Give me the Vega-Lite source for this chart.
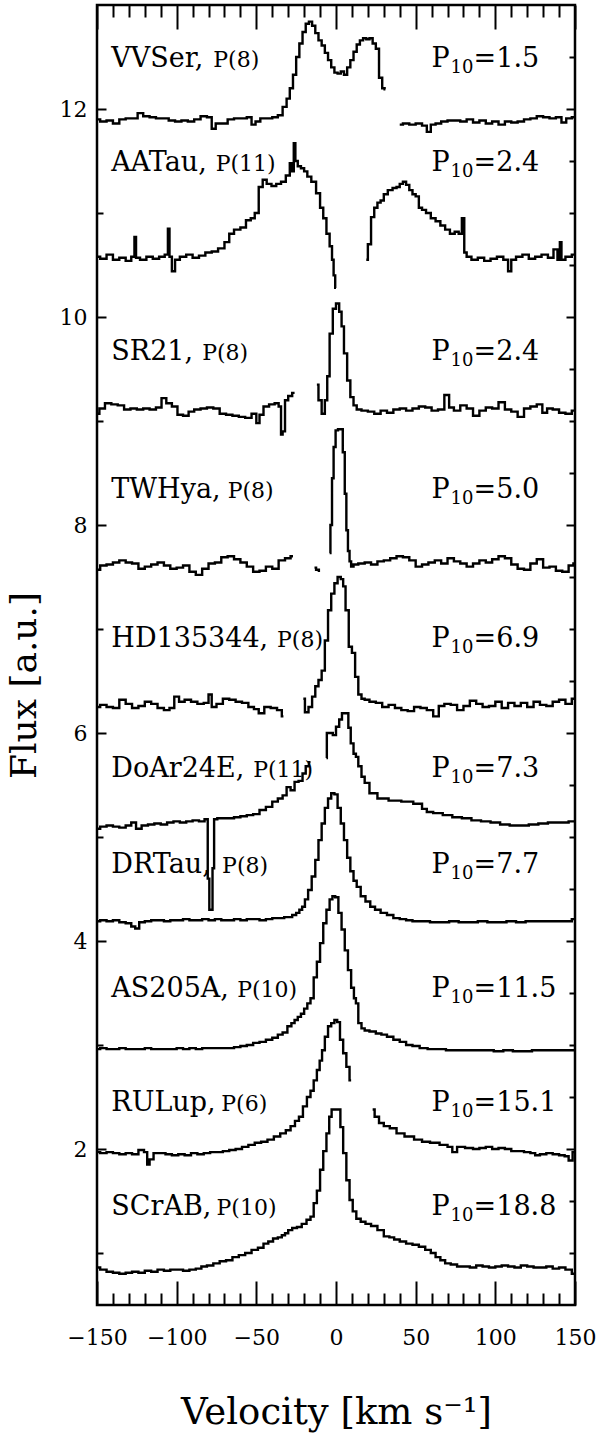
{
"$schema":"https://vega.github.io/schema/vega-lite/v6.json",
"width":478,"height":1300,
"autosize":{"type":"none"},
"padding":{"left":97,"top":5,"right":25,"bottom":128},
"background":"white",
"config":{"view":{"stroke":"black","strokeWidth":2.5},
 "axis":{"grid":false,"domain":false,"tickColor":"black","tickWidth":2,"labelColor":"black","titleColor":"black","labelFont":"DejaVu Serif","titleFont":"DejaVu Serif","titleFontWeight":"normal","labelOverlap":false,"labelFlush":false,"labelBound":false}},
"datasets":{
"spec":[
{"seg":"VVSer-a","v":-150,"f":11.90},{"seg":"VVSer-a","v":-146,"f":11.88},{"seg":"VVSer-a","v":-142,"f":11.89},{"seg":"VVSer-a","v":-138,"f":11.86},{"seg":"VVSer-a","v":-134,"f":11.90},{"seg":"VVSer-a","v":-130,"f":11.91},{"seg":"VVSer-a","v":-126,"f":11.91},{"seg":"VVSer-a","v":-123,"f":11.96},{"seg":"VVSer-a","v":-119,"f":11.93},{"seg":"VVSer-a","v":-115,"f":11.92},{"seg":"VVSer-a","v":-111,"f":11.91},{"seg":"VVSer-a","v":-107,"f":11.91},{"seg":"VVSer-a","v":-103,"f":11.89},{"seg":"VVSer-a","v":-99,"f":11.88},{"seg":"VVSer-a","v":-95,"f":11.89},{"seg":"VVSer-a","v":-91,"f":11.88},{"seg":"VVSer-a","v":-87,"f":11.90},{"seg":"VVSer-a","v":-83,"f":11.93},{"seg":"VVSer-a","v":-79,"f":11.92},{"seg":"VVSer-a","v":-77,"f":11.81},{"seg":"VVSer-a","v":-74,"f":11.86},{"seg":"VVSer-a","v":-70,"f":11.86},{"seg":"VVSer-a","v":-66,"f":11.90},{"seg":"VVSer-a","v":-62,"f":11.91},{"seg":"VVSer-a","v":-58,"f":11.91},{"seg":"VVSer-a","v":-54,"f":11.92},{"seg":"VVSer-a","v":-52,"f":11.85},{"seg":"VVSer-a","v":-49,"f":11.88},{"seg":"VVSer-a","v":-46,"f":11.91},{"seg":"VVSer-a","v":-42,"f":11.91},{"seg":"VVSer-a","v":-38,"f":11.92},{"seg":"VVSer-a","v":-35,"f":11.94},{"seg":"VVSer-a","v":-32,"f":12.02},{"seg":"VVSer-a","v":-30,"f":12.10},{"seg":"VVSer-a","v":-28,"f":12.20},{"seg":"VVSer-a","v":-26,"f":12.33},{"seg":"VVSer-a","v":-24,"f":12.50},{"seg":"VVSer-a","v":-22,"f":12.63},{"seg":"VVSer-a","v":-20,"f":12.74},{"seg":"VVSer-a","v":-18,"f":12.82},{"seg":"VVSer-a","v":-16,"f":12.84},{"seg":"VVSer-a","v":-14,"f":12.80},{"seg":"VVSer-a","v":-12,"f":12.73},{"seg":"VVSer-a","v":-10,"f":12.66},{"seg":"VVSer-a","v":-8,"f":12.61},{"seg":"VVSer-a","v":-6,"f":12.54},{"seg":"VVSer-a","v":-4,"f":12.47},{"seg":"VVSer-a","v":-2,"f":12.40},{"seg":"VVSer-a","v":0,"f":12.35},{"seg":"VVSer-a","v":2,"f":12.34},{"seg":"VVSer-a","v":4,"f":12.36},{"seg":"VVSer-a","v":6,"f":12.33},{"seg":"VVSer-a","v":8,"f":12.40},{"seg":"VVSer-a","v":10,"f":12.47},{"seg":"VVSer-a","v":12,"f":12.55},{"seg":"VVSer-a","v":14,"f":12.62},{"seg":"VVSer-a","v":16,"f":12.66},{"seg":"VVSer-a","v":18,"f":12.68},{"seg":"VVSer-a","v":20,"f":12.67},{"seg":"VVSer-a","v":22,"f":12.68},{"seg":"VVSer-a","v":24,"f":12.63},{"seg":"VVSer-a","v":26,"f":12.58},{"seg":"VVSer-a","v":28,"f":12.30},{"seg":"VVSer-a","v":30,"f":12.20},{"seg":"VVSer-a","v":31,"f":12.19},
{"seg":"VVSer-b","v":40,"f":11.85},{"seg":"VVSer-b","v":44,"f":11.86},{"seg":"VVSer-b","v":48,"f":11.85},{"seg":"VVSer-b","v":52,"f":11.86},{"seg":"VVSer-b","v":56,"f":11.84},{"seg":"VVSer-b","v":58,"f":11.78},{"seg":"VVSer-b","v":61,"f":11.85},{"seg":"VVSer-b","v":64,"f":11.86},{"seg":"VVSer-b","v":68,"f":11.88},{"seg":"VVSer-b","v":72,"f":11.89},{"seg":"VVSer-b","v":76,"f":11.89},{"seg":"VVSer-b","v":80,"f":11.88},{"seg":"VVSer-b","v":84,"f":11.90},{"seg":"VVSer-b","v":88,"f":11.87},{"seg":"VVSer-b","v":92,"f":11.89},{"seg":"VVSer-b","v":96,"f":11.86},{"seg":"VVSer-b","v":100,"f":11.88},{"seg":"VVSer-b","v":104,"f":11.85},{"seg":"VVSer-b","v":108,"f":11.88},{"seg":"VVSer-b","v":112,"f":11.87},{"seg":"VVSer-b","v":116,"f":11.88},{"seg":"VVSer-b","v":120,"f":11.90},{"seg":"VVSer-b","v":124,"f":11.91},{"seg":"VVSer-b","v":128,"f":11.93},{"seg":"VVSer-b","v":132,"f":11.92},{"seg":"VVSer-b","v":136,"f":11.91},{"seg":"VVSer-b","v":140,"f":11.92},{"seg":"VVSer-b","v":143,"f":11.87},{"seg":"VVSer-b","v":146,"f":11.91},{"seg":"VVSer-b","v":150,"f":11.92},
{"seg":"AATau-a","v":-150,"f":10.58},{"seg":"AATau-a","v":-146,"f":10.56},{"seg":"AATau-a","v":-142,"f":10.60},{"seg":"AATau-a","v":-138,"f":10.55},{"seg":"AATau-a","v":-134,"f":10.57},{"seg":"AATau-a","v":-130,"f":10.54},{"seg":"AATau-a","v":-127,"f":10.58},{"seg":"AATau-a","v":-126,"f":10.77},{"seg":"AATau-a","v":-125,"f":10.57},{"seg":"AATau-a","v":-121,"f":10.55},{"seg":"AATau-a","v":-117,"f":10.58},{"seg":"AATau-a","v":-113,"f":10.56},{"seg":"AATau-a","v":-109,"f":10.58},{"seg":"AATau-a","v":-106,"f":10.60},{"seg":"AATau-a","v":-105,"f":10.85},{"seg":"AATau-a","v":-104,"f":10.58},{"seg":"AATau-a","v":-102,"f":10.44},{"seg":"AATau-a","v":-100,"f":10.55},{"seg":"AATau-a","v":-96,"f":10.58},{"seg":"AATau-a","v":-92,"f":10.60},{"seg":"AATau-a","v":-88,"f":10.57},{"seg":"AATau-a","v":-84,"f":10.59},{"seg":"AATau-a","v":-80,"f":10.62},{"seg":"AATau-a","v":-76,"f":10.63},{"seg":"AATau-a","v":-72,"f":10.66},{"seg":"AATau-a","v":-68,"f":10.72},{"seg":"AATau-a","v":-66,"f":10.80},{"seg":"AATau-a","v":-62,"f":10.84},{"seg":"AATau-a","v":-58,"f":10.86},{"seg":"AATau-a","v":-55,"f":10.93},{"seg":"AATau-a","v":-52,"f":10.95},{"seg":"AATau-a","v":-50,"f":11.00},{"seg":"AATau-a","v":-47,"f":11.25},{"seg":"AATau-a","v":-45,"f":11.32},{"seg":"AATau-a","v":-42,"f":11.28},{"seg":"AATau-a","v":-39,"f":11.26},{"seg":"AATau-a","v":-36,"f":11.28},{"seg":"AATau-a","v":-33,"f":11.30},{"seg":"AATau-a","v":-30,"f":11.36},{"seg":"AATau-a","v":-28,"f":11.48},{"seg":"AATau-a","v":-27,"f":11.40},{"seg":"AATau-a","v":-26,"f":11.67},{"seg":"AATau-a","v":-25,"f":11.50},{"seg":"AATau-a","v":-23,"f":11.45},{"seg":"AATau-a","v":-21,"f":11.43},{"seg":"AATau-a","v":-19,"f":11.40},{"seg":"AATau-a","v":-17,"f":11.35},{"seg":"AATau-a","v":-14,"f":11.30},{"seg":"AATau-a","v":-11,"f":11.19},{"seg":"AATau-a","v":-9,"f":11.05},{"seg":"AATau-a","v":-7,"f":10.95},{"seg":"AATau-a","v":-5,"f":10.80},{"seg":"AATau-a","v":-3,"f":10.68},{"seg":"AATau-a","v":-2,"f":10.55},{"seg":"AATau-a","v":-1,"f":10.40},{"seg":"AATau-a","v":0,"f":10.28},
{"seg":"AATau-b","v":19,"f":10.55},{"seg":"AATau-b","v":21,"f":10.70},{"seg":"AATau-b","v":23,"f":10.96},{"seg":"AATau-b","v":25,"f":11.05},{"seg":"AATau-b","v":27,"f":11.10},{"seg":"AATau-b","v":29,"f":11.12},{"seg":"AATau-b","v":31,"f":11.18},{"seg":"AATau-b","v":34,"f":11.22},{"seg":"AATau-b","v":37,"f":11.24},{"seg":"AATau-b","v":39,"f":11.25},{"seg":"AATau-b","v":41,"f":11.28},{"seg":"AATau-b","v":43,"f":11.30},{"seg":"AATau-b","v":45,"f":11.27},{"seg":"AATau-b","v":47,"f":11.22},{"seg":"AATau-b","v":49,"f":11.18},{"seg":"AATau-b","v":51,"f":11.16},{"seg":"AATau-b","v":53,"f":11.05},{"seg":"AATau-b","v":55,"f":11.03},{"seg":"AATau-b","v":58,"f":11.00},{"seg":"AATau-b","v":61,"f":10.95},{"seg":"AATau-b","v":64,"f":10.92},{"seg":"AATau-b","v":67,"f":10.88},{"seg":"AATau-b","v":70,"f":10.84},{"seg":"AATau-b","v":73,"f":10.80},{"seg":"AATau-b","v":76,"f":10.82},{"seg":"AATau-b","v":78,"f":10.80},{"seg":"AATau-b","v":80,"f":10.95},{"seg":"AATau-b","v":81,"f":10.62},{"seg":"AATau-b","v":83,"f":10.58},{"seg":"AATau-b","v":87,"f":10.55},{"seg":"AATau-b","v":91,"f":10.57},{"seg":"AATau-b","v":95,"f":10.54},{"seg":"AATau-b","v":99,"f":10.56},{"seg":"AATau-b","v":103,"f":10.58},{"seg":"AATau-b","v":107,"f":10.55},{"seg":"AATau-b","v":109,"f":10.44},{"seg":"AATau-b","v":111,"f":10.55},{"seg":"AATau-b","v":115,"f":10.58},{"seg":"AATau-b","v":119,"f":10.60},{"seg":"AATau-b","v":123,"f":10.56},{"seg":"AATau-b","v":127,"f":10.58},{"seg":"AATau-b","v":131,"f":10.60},{"seg":"AATau-b","v":135,"f":10.57},{"seg":"AATau-b","v":138,"f":10.65},{"seg":"AATau-b","v":140,"f":10.55},{"seg":"AATau-b","v":141,"f":10.72},{"seg":"AATau-b","v":142,"f":10.55},{"seg":"AATau-b","v":146,"f":10.58},{"seg":"AATau-b","v":150,"f":10.60},
{"seg":"SR21-a","v":-150,"f":9.07},{"seg":"SR21-a","v":-147,"f":9.12},{"seg":"SR21-a","v":-143,"f":9.17},{"seg":"SR21-a","v":-139,"f":9.16},{"seg":"SR21-a","v":-135,"f":9.15},{"seg":"SR21-a","v":-131,"f":9.11},{"seg":"SR21-a","v":-127,"f":9.12},{"seg":"SR21-a","v":-123,"f":9.11},{"seg":"SR21-a","v":-119,"f":9.12},{"seg":"SR21-a","v":-115,"f":9.11},{"seg":"SR21-a","v":-111,"f":9.13},{"seg":"SR21-a","v":-108,"f":9.22},{"seg":"SR21-a","v":-105,"f":9.17},{"seg":"SR21-a","v":-101,"f":9.14},{"seg":"SR21-a","v":-98,"f":9.06},{"seg":"SR21-a","v":-94,"f":9.05},{"seg":"SR21-a","v":-91,"f":9.09},{"seg":"SR21-a","v":-87,"f":9.11},{"seg":"SR21-a","v":-83,"f":9.12},{"seg":"SR21-a","v":-79,"f":9.13},{"seg":"SR21-a","v":-75,"f":9.12},{"seg":"SR21-a","v":-71,"f":9.07},{"seg":"SR21-a","v":-67,"f":9.06},{"seg":"SR21-a","v":-63,"f":9.05},{"seg":"SR21-a","v":-59,"f":9.04},{"seg":"SR21-a","v":-55,"f":9.03},{"seg":"SR21-a","v":-51,"f":9.07},{"seg":"SR21-a","v":-49,"f":8.98},{"seg":"SR21-a","v":-47,"f":9.06},{"seg":"SR21-a","v":-44,"f":9.14},{"seg":"SR21-a","v":-40,"f":9.16},{"seg":"SR21-a","v":-37,"f":9.17},{"seg":"SR21-a","v":-35,"f":9.14},{"seg":"SR21-a","v":-34,"f":8.87},{"seg":"SR21-a","v":-33,"f":8.90},{"seg":"SR21-a","v":-31,"f":9.20},{"seg":"SR21-a","v":-29,"f":9.24},{"seg":"SR21-a","v":-26,"f":9.27},
{"seg":"SR21-b","v":-12,"f":9.35},{"seg":"SR21-b","v":-10,"f":9.20},{"seg":"SR21-b","v":-8,"f":9.07},{"seg":"SR21-b","v":-6,"f":9.20},{"seg":"SR21-b","v":-5,"f":9.43},{"seg":"SR21-b","v":-3,"f":9.84},{"seg":"SR21-b","v":-1,"f":10.08},{"seg":"SR21-b","v":1,"f":10.13},{"seg":"SR21-b","v":3,"f":10.05},{"seg":"SR21-b","v":4,"f":9.91},{"seg":"SR21-b","v":6,"f":9.65},{"seg":"SR21-b","v":8,"f":9.39},{"seg":"SR21-b","v":10,"f":9.23},{"seg":"SR21-b","v":12,"f":9.15},{"seg":"SR21-b","v":14,"f":9.11},{"seg":"SR21-b","v":18,"f":9.10},{"seg":"SR21-b","v":22,"f":9.09},{"seg":"SR21-b","v":26,"f":9.07},{"seg":"SR21-b","v":30,"f":9.10},{"seg":"SR21-b","v":34,"f":9.08},{"seg":"SR21-b","v":38,"f":9.11},{"seg":"SR21-b","v":42,"f":9.12},{"seg":"SR21-b","v":46,"f":9.10},{"seg":"SR21-b","v":50,"f":9.12},{"seg":"SR21-b","v":54,"f":9.14},{"seg":"SR21-b","v":58,"f":9.13},{"seg":"SR21-b","v":62,"f":9.10},{"seg":"SR21-b","v":66,"f":9.11},{"seg":"SR21-b","v":70,"f":9.25},{"seg":"SR21-b","v":72,"f":9.13},{"seg":"SR21-b","v":76,"f":9.10},{"seg":"SR21-b","v":80,"f":9.15},{"seg":"SR21-b","v":84,"f":9.12},{"seg":"SR21-b","v":88,"f":9.05},{"seg":"SR21-b","v":92,"f":9.10},{"seg":"SR21-b","v":96,"f":9.13},{"seg":"SR21-b","v":100,"f":9.12},{"seg":"SR21-b","v":104,"f":9.18},{"seg":"SR21-b","v":108,"f":9.11},{"seg":"SR21-b","v":112,"f":9.09},{"seg":"SR21-b","v":116,"f":9.04},{"seg":"SR21-b","v":120,"f":9.12},{"seg":"SR21-b","v":124,"f":9.14},{"seg":"SR21-b","v":128,"f":9.16},{"seg":"SR21-b","v":131,"f":9.08},{"seg":"SR21-b","v":134,"f":9.12},{"seg":"SR21-b","v":138,"f":9.11},{"seg":"SR21-b","v":142,"f":9.08},{"seg":"SR21-b","v":146,"f":9.07},{"seg":"SR21-b","v":150,"f":9.10},
{"seg":"TWHya-a","v":-150,"f":7.57},{"seg":"TWHya-a","v":-146,"f":7.61},{"seg":"TWHya-a","v":-142,"f":7.62},{"seg":"TWHya-a","v":-138,"f":7.64},{"seg":"TWHya-a","v":-134,"f":7.66},{"seg":"TWHya-a","v":-130,"f":7.64},{"seg":"TWHya-a","v":-126,"f":7.63},{"seg":"TWHya-a","v":-122,"f":7.58},{"seg":"TWHya-a","v":-118,"f":7.60},{"seg":"TWHya-a","v":-114,"f":7.62},{"seg":"TWHya-a","v":-110,"f":7.64},{"seg":"TWHya-a","v":-106,"f":7.61},{"seg":"TWHya-a","v":-102,"f":7.58},{"seg":"TWHya-a","v":-98,"f":7.59},{"seg":"TWHya-a","v":-94,"f":7.61},{"seg":"TWHya-a","v":-90,"f":7.55},{"seg":"TWHya-a","v":-86,"f":7.52},{"seg":"TWHya-a","v":-82,"f":7.58},{"seg":"TWHya-a","v":-78,"f":7.63},{"seg":"TWHya-a","v":-74,"f":7.64},{"seg":"TWHya-a","v":-70,"f":7.69},{"seg":"TWHya-a","v":-66,"f":7.70},{"seg":"TWHya-a","v":-62,"f":7.67},{"seg":"TWHya-a","v":-58,"f":7.64},{"seg":"TWHya-a","v":-54,"f":7.60},{"seg":"TWHya-a","v":-50,"f":7.55},{"seg":"TWHya-a","v":-46,"f":7.56},{"seg":"TWHya-a","v":-42,"f":7.60},{"seg":"TWHya-a","v":-38,"f":7.58},{"seg":"TWHya-a","v":-34,"f":7.66},{"seg":"TWHya-a","v":-30,"f":7.68},{"seg":"TWHya-a","v":-27,"f":7.70},
{"seg":"TWHya-b","v":-13.5,"f":7.59},{"seg":"TWHya-b","v":-11.5,"f":7.57},{"seg":"TWHya-b","v":-10,"f":7.56},
{"seg":"TWHya-c","v":-4,"f":7.73},{"seg":"TWHya-c","v":-3,"f":8.00},{"seg":"TWHya-c","v":-2,"f":8.45},{"seg":"TWHya-c","v":-1,"f":8.75},{"seg":"TWHya-c","v":0.5,"f":8.91},{"seg":"TWHya-c","v":2,"f":8.92},{"seg":"TWHya-c","v":3.5,"f":8.92},{"seg":"TWHya-c","v":5,"f":8.70},{"seg":"TWHya-c","v":6,"f":8.30},{"seg":"TWHya-c","v":7,"f":7.95},{"seg":"TWHya-c","v":8,"f":7.75},{"seg":"TWHya-c","v":9,"f":7.65},{"seg":"TWHya-c","v":10,"f":7.60},{"seg":"TWHya-c","v":12,"f":7.62},{"seg":"TWHya-c","v":16,"f":7.63},{"seg":"TWHya-c","v":20,"f":7.64},{"seg":"TWHya-c","v":24,"f":7.62},{"seg":"TWHya-c","v":28,"f":7.65},{"seg":"TWHya-c","v":32,"f":7.66},{"seg":"TWHya-c","v":36,"f":7.68},{"seg":"TWHya-c","v":40,"f":7.70},{"seg":"TWHya-c","v":44,"f":7.69},{"seg":"TWHya-c","v":48,"f":7.66},{"seg":"TWHya-c","v":52,"f":7.60},{"seg":"TWHya-c","v":56,"f":7.62},{"seg":"TWHya-c","v":60,"f":7.64},{"seg":"TWHya-c","v":64,"f":7.66},{"seg":"TWHya-c","v":68,"f":7.63},{"seg":"TWHya-c","v":72,"f":7.68},{"seg":"TWHya-c","v":76,"f":7.65},{"seg":"TWHya-c","v":80,"f":7.63},{"seg":"TWHya-c","v":84,"f":7.60},{"seg":"TWHya-c","v":88,"f":7.63},{"seg":"TWHya-c","v":92,"f":7.66},{"seg":"TWHya-c","v":96,"f":7.64},{"seg":"TWHya-c","v":100,"f":7.67},{"seg":"TWHya-c","v":104,"f":7.70},{"seg":"TWHya-c","v":108,"f":7.68},{"seg":"TWHya-c","v":112,"f":7.62},{"seg":"TWHya-c","v":116,"f":7.58},{"seg":"TWHya-c","v":120,"f":7.57},{"seg":"TWHya-c","v":124,"f":7.63},{"seg":"TWHya-c","v":128,"f":7.67},{"seg":"TWHya-c","v":132,"f":7.59},{"seg":"TWHya-c","v":136,"f":7.60},{"seg":"TWHya-c","v":140,"f":7.56},{"seg":"TWHya-c","v":144,"f":7.55},{"seg":"TWHya-c","v":148,"f":7.61},{"seg":"TWHya-c","v":150,"f":7.63},
{"seg":"HD-a","v":-150,"f":6.25},{"seg":"HD-a","v":-146,"f":6.27},{"seg":"HD-a","v":-142,"f":6.25},{"seg":"HD-a","v":-138,"f":6.24},{"seg":"HD-a","v":-134,"f":6.32},{"seg":"HD-a","v":-130,"f":6.28},{"seg":"HD-a","v":-126,"f":6.24},{"seg":"HD-a","v":-122,"f":6.26},{"seg":"HD-a","v":-118,"f":6.30},{"seg":"HD-a","v":-114,"f":6.28},{"seg":"HD-a","v":-110,"f":6.24},{"seg":"HD-a","v":-106,"f":6.22},{"seg":"HD-a","v":-103,"f":6.24},{"seg":"HD-a","v":-100,"f":6.35},{"seg":"HD-a","v":-97,"f":6.30},{"seg":"HD-a","v":-93,"f":6.32},{"seg":"HD-a","v":-89,"f":6.30},{"seg":"HD-a","v":-85,"f":6.28},{"seg":"HD-a","v":-81,"f":6.29},{"seg":"HD-a","v":-79,"f":6.37},{"seg":"HD-a","v":-77,"f":6.25},{"seg":"HD-a","v":-73,"f":6.28},{"seg":"HD-a","v":-69,"f":6.33},{"seg":"HD-a","v":-65,"f":6.32},{"seg":"HD-a","v":-61,"f":6.30},{"seg":"HD-a","v":-57,"f":6.29},{"seg":"HD-a","v":-53,"f":6.25},{"seg":"HD-a","v":-50,"f":6.23},{"seg":"HD-a","v":-47,"f":6.19},{"seg":"HD-a","v":-43,"f":6.25},{"seg":"HD-a","v":-39,"f":6.24},{"seg":"HD-a","v":-35,"f":6.22},{"seg":"HD-a","v":-33,"f":6.16},
{"seg":"HD-b","v":-20.5,"f":6.33},{"seg":"HD-b","v":-18.5,"f":6.20},{"seg":"HD-b","v":-16,"f":6.25},{"seg":"HD-b","v":-14,"f":6.35},{"seg":"HD-b","v":-12,"f":6.45},{"seg":"HD-b","v":-10,"f":6.51},{"seg":"HD-b","v":-8,"f":6.60},{"seg":"HD-b","v":-6,"f":6.89},{"seg":"HD-b","v":-4,"f":7.18},{"seg":"HD-b","v":-2,"f":7.34},{"seg":"HD-b","v":0,"f":7.44},{"seg":"HD-b","v":2,"f":7.50},{"seg":"HD-b","v":4,"f":7.48},{"seg":"HD-b","v":5,"f":7.41},{"seg":"HD-b","v":7,"f":7.18},{"seg":"HD-b","v":9,"f":6.83},{"seg":"HD-b","v":11,"f":6.77},{"seg":"HD-b","v":13,"f":6.54},{"seg":"HD-b","v":15,"f":6.37},{"seg":"HD-b","v":17,"f":6.33},{"seg":"HD-b","v":19,"f":6.32},{"seg":"HD-b","v":23,"f":6.30},{"seg":"HD-b","v":27,"f":6.29},{"seg":"HD-b","v":31,"f":6.25},{"seg":"HD-b","v":35,"f":6.27},{"seg":"HD-b","v":39,"f":6.24},{"seg":"HD-b","v":43,"f":6.22},{"seg":"HD-b","v":47,"f":6.21},{"seg":"HD-b","v":51,"f":6.25},{"seg":"HD-b","v":55,"f":6.24},{"seg":"HD-b","v":59,"f":6.22},{"seg":"HD-b","v":63,"f":6.16},{"seg":"HD-b","v":66,"f":6.26},{"seg":"HD-b","v":70,"f":6.28},{"seg":"HD-b","v":74,"f":6.27},{"seg":"HD-b","v":78,"f":6.22},{"seg":"HD-b","v":82,"f":6.26},{"seg":"HD-b","v":86,"f":6.31},{"seg":"HD-b","v":90,"f":6.28},{"seg":"HD-b","v":94,"f":6.25},{"seg":"HD-b","v":98,"f":6.26},{"seg":"HD-b","v":102,"f":6.30},{"seg":"HD-b","v":106,"f":6.24},{"seg":"HD-b","v":110,"f":6.29},{"seg":"HD-b","v":114,"f":6.26},{"seg":"HD-b","v":118,"f":6.29},{"seg":"HD-b","v":122,"f":6.25},{"seg":"HD-b","v":126,"f":6.30},{"seg":"HD-b","v":130,"f":6.27},{"seg":"HD-b","v":134,"f":6.26},{"seg":"HD-b","v":138,"f":6.30},{"seg":"HD-b","v":142,"f":6.32},{"seg":"HD-b","v":146,"f":6.28},{"seg":"HD-b","v":150,"f":6.33},
{"seg":"DoAr-a","v":-150,"f":5.08},{"seg":"DoAr-a","v":-146,"f":5.10},{"seg":"DoAr-a","v":-142,"f":5.11},{"seg":"DoAr-a","v":-138,"f":5.10},{"seg":"DoAr-a","v":-134,"f":5.09},{"seg":"DoAr-a","v":-130,"f":5.11},{"seg":"DoAr-a","v":-127,"f":5.14},{"seg":"DoAr-a","v":-124,"f":5.08},{"seg":"DoAr-a","v":-120,"f":5.11},{"seg":"DoAr-a","v":-116,"f":5.12},{"seg":"DoAr-a","v":-112,"f":5.13},{"seg":"DoAr-a","v":-108,"f":5.12},{"seg":"DoAr-a","v":-104,"f":5.14},{"seg":"DoAr-a","v":-100,"f":5.15},{"seg":"DoAr-a","v":-96,"f":5.14},{"seg":"DoAr-a","v":-92,"f":5.15},{"seg":"DoAr-a","v":-88,"f":5.16},{"seg":"DoAr-a","v":-84,"f":5.15},{"seg":"DoAr-a","v":-81,"f":5.17},{"seg":"DoAr-a","v":-80,"f":4.60},{"seg":"DoAr-a","v":-79,"f":4.30},{"seg":"DoAr-a","v":-78,"f":4.30},{"seg":"DoAr-a","v":-77,"f":4.70},{"seg":"DoAr-a","v":-76,"f":5.17},{"seg":"DoAr-a","v":-73,"f":5.18},{"seg":"DoAr-a","v":-70,"f":5.18},{"seg":"DoAr-a","v":-66,"f":5.18},{"seg":"DoAr-a","v":-62,"f":5.19},{"seg":"DoAr-a","v":-58,"f":5.20},{"seg":"DoAr-a","v":-54,"f":5.21},{"seg":"DoAr-a","v":-50,"f":5.22},{"seg":"DoAr-a","v":-46,"f":5.26},{"seg":"DoAr-a","v":-42,"f":5.29},{"seg":"DoAr-a","v":-38,"f":5.34},{"seg":"DoAr-a","v":-35,"f":5.37},{"seg":"DoAr-a","v":-32,"f":5.40},{"seg":"DoAr-a","v":-30,"f":5.48},{"seg":"DoAr-a","v":-27,"f":5.45},{"seg":"DoAr-a","v":-25,"f":5.53},{"seg":"DoAr-a","v":-22,"f":5.54},{"seg":"DoAr-a","v":-20,"f":5.61},{"seg":"DoAr-a","v":-18,"f":5.68},{"seg":"DoAr-a","v":-16,"f":5.72},
{"seg":"DoAr-b","v":-6,"f":5.76},{"seg":"DoAr-b","v":-5.5,"f":6.00},{"seg":"DoAr-b","v":-3,"f":6.00},{"seg":"DoAr-b","v":-1,"f":5.98},{"seg":"DoAr-b","v":1,"f":6.06},{"seg":"DoAr-b","v":3,"f":6.13},{"seg":"DoAr-b","v":4.5,"f":6.19},{"seg":"DoAr-b","v":7,"f":6.19},{"seg":"DoAr-b","v":8.5,"f":6.05},{"seg":"DoAr-b","v":10,"f":5.90},{"seg":"DoAr-b","v":12,"f":5.80},{"seg":"DoAr-b","v":13,"f":5.77},{"seg":"DoAr-b","v":15,"f":5.68},{"seg":"DoAr-b","v":17,"f":5.58},{"seg":"DoAr-b","v":19,"f":5.52},{"seg":"DoAr-b","v":23,"f":5.42},{"seg":"DoAr-b","v":29,"f":5.37},{"seg":"DoAr-b","v":37,"f":5.35},{"seg":"DoAr-b","v":45,"f":5.34},{"seg":"DoAr-b","v":52,"f":5.32},{"seg":"DoAr-b","v":56,"f":5.27},{"seg":"DoAr-b","v":58,"f":5.24},{"seg":"DoAr-b","v":64,"f":5.23},{"seg":"DoAr-b","v":70,"f":5.21},{"seg":"DoAr-b","v":76,"f":5.19},{"seg":"DoAr-b","v":82,"f":5.18},{"seg":"DoAr-b","v":88,"f":5.16},{"seg":"DoAr-b","v":94,"f":5.15},{"seg":"DoAr-b","v":100,"f":5.14},{"seg":"DoAr-b","v":106,"f":5.12},{"seg":"DoAr-b","v":112,"f":5.11},{"seg":"DoAr-b","v":118,"f":5.11},{"seg":"DoAr-b","v":124,"f":5.12},{"seg":"DoAr-b","v":130,"f":5.13},{"seg":"DoAr-b","v":136,"f":5.14},{"seg":"DoAr-b","v":142,"f":5.14},{"seg":"DoAr-b","v":150,"f":5.15},
{"seg":"DRTau","v":-150,"f":4.19},{"seg":"DRTau","v":-146,"f":4.20},{"seg":"DRTau","v":-142,"f":4.19},{"seg":"DRTau","v":-138,"f":4.20},{"seg":"DRTau","v":-134,"f":4.18},{"seg":"DRTau","v":-130,"f":4.17},{"seg":"DRTau","v":-127,"f":4.14},{"seg":"DRTau","v":-125,"f":4.12},{"seg":"DRTau","v":-122,"f":4.18},{"seg":"DRTau","v":-118,"f":4.19},{"seg":"DRTau","v":-114,"f":4.20},{"seg":"DRTau","v":-110,"f":4.20},{"seg":"DRTau","v":-106,"f":4.19},{"seg":"DRTau","v":-102,"f":4.20},{"seg":"DRTau","v":-98,"f":4.20},{"seg":"DRTau","v":-94,"f":4.21},{"seg":"DRTau","v":-90,"f":4.20},{"seg":"DRTau","v":-86,"f":4.20},{"seg":"DRTau","v":-82,"f":4.21},{"seg":"DRTau","v":-78,"f":4.20},{"seg":"DRTau","v":-74,"f":4.21},{"seg":"DRTau","v":-70,"f":4.20},{"seg":"DRTau","v":-66,"f":4.20},{"seg":"DRTau","v":-62,"f":4.21},{"seg":"DRTau","v":-58,"f":4.20},{"seg":"DRTau","v":-54,"f":4.21},{"seg":"DRTau","v":-50,"f":4.21},{"seg":"DRTau","v":-46,"f":4.20},{"seg":"DRTau","v":-42,"f":4.21},{"seg":"DRTau","v":-38,"f":4.22},{"seg":"DRTau","v":-34,"f":4.22},{"seg":"DRTau","v":-31,"f":4.23},{"seg":"DRTau","v":-29,"f":4.23},{"seg":"DRTau","v":-26,"f":4.25},{"seg":"DRTau","v":-24,"f":4.27},{"seg":"DRTau","v":-22,"f":4.30},{"seg":"DRTau","v":-20.5,"f":4.33},{"seg":"DRTau","v":-18.5,"f":4.40},{"seg":"DRTau","v":-16.5,"f":4.49},{"seg":"DRTau","v":-14,"f":4.62},{"seg":"DRTau","v":-12,"f":4.78},{"seg":"DRTau","v":-10,"f":4.97},{"seg":"DRTau","v":-8,"f":5.13},{"seg":"DRTau","v":-6,"f":5.28},{"seg":"DRTau","v":-4,"f":5.37},{"seg":"DRTau","v":-2,"f":5.42},{"seg":"DRTau","v":0,"f":5.41},{"seg":"DRTau","v":2,"f":5.28},{"seg":"DRTau","v":4,"f":5.13},{"seg":"DRTau","v":6,"f":4.97},{"seg":"DRTau","v":8,"f":4.80},{"seg":"DRTau","v":10,"f":4.67},{"seg":"DRTau","v":12,"f":4.58},{"seg":"DRTau","v":14,"f":4.52},{"seg":"DRTau","v":17,"f":4.43},{"seg":"DRTau","v":20,"f":4.38},{"seg":"DRTau","v":23,"f":4.33},{"seg":"DRTau","v":26,"f":4.30},{"seg":"DRTau","v":30,"f":4.27},{"seg":"DRTau","v":34,"f":4.25},{"seg":"DRTau","v":38,"f":4.22},{"seg":"DRTau","v":42,"f":4.21},{"seg":"DRTau","v":46,"f":4.20},{"seg":"DRTau","v":50,"f":4.19},{"seg":"DRTau","v":56,"f":4.19},{"seg":"DRTau","v":62,"f":4.18},{"seg":"DRTau","v":68,"f":4.18},{"seg":"DRTau","v":74,"f":4.19},{"seg":"DRTau","v":80,"f":4.18},{"seg":"DRTau","v":86,"f":4.18},{"seg":"DRTau","v":92,"f":4.19},{"seg":"DRTau","v":98,"f":4.18},{"seg":"DRTau","v":104,"f":4.18},{"seg":"DRTau","v":110,"f":4.19},{"seg":"DRTau","v":116,"f":4.18},{"seg":"DRTau","v":122,"f":4.19},{"seg":"DRTau","v":128,"f":4.19},{"seg":"DRTau","v":134,"f":4.19},{"seg":"DRTau","v":140,"f":4.19},{"seg":"DRTau","v":146,"f":4.19},{"seg":"DRTau","v":150,"f":4.21},
{"seg":"AS205A","v":-150,"f":2.96},{"seg":"AS205A","v":-146,"f":2.97},{"seg":"AS205A","v":-142,"f":2.96},{"seg":"AS205A","v":-138,"f":2.96},{"seg":"AS205A","v":-134,"f":2.97},{"seg":"AS205A","v":-130,"f":2.96},{"seg":"AS205A","v":-126,"f":2.96},{"seg":"AS205A","v":-122,"f":2.96},{"seg":"AS205A","v":-118,"f":2.97},{"seg":"AS205A","v":-114,"f":2.96},{"seg":"AS205A","v":-110,"f":2.96},{"seg":"AS205A","v":-106,"f":2.96},{"seg":"AS205A","v":-102,"f":2.96},{"seg":"AS205A","v":-98,"f":2.97},{"seg":"AS205A","v":-94,"f":2.96},{"seg":"AS205A","v":-90,"f":2.97},{"seg":"AS205A","v":-86,"f":2.96},{"seg":"AS205A","v":-82,"f":2.97},{"seg":"AS205A","v":-78,"f":2.97},{"seg":"AS205A","v":-74,"f":2.97},{"seg":"AS205A","v":-70,"f":2.97},{"seg":"AS205A","v":-66,"f":2.97},{"seg":"AS205A","v":-62,"f":2.98},{"seg":"AS205A","v":-58,"f":2.99},{"seg":"AS205A","v":-54,"f":3.00},{"seg":"AS205A","v":-50,"f":3.02},{"seg":"AS205A","v":-46,"f":3.03},{"seg":"AS205A","v":-42,"f":3.05},{"seg":"AS205A","v":-38,"f":3.07},{"seg":"AS205A","v":-35,"f":3.10},{"seg":"AS205A","v":-32,"f":3.12},{"seg":"AS205A","v":-29,"f":3.18},{"seg":"AS205A","v":-27,"f":3.21},{"seg":"AS205A","v":-25,"f":3.24},{"seg":"AS205A","v":-23,"f":3.27},{"seg":"AS205A","v":-21,"f":3.30},{"seg":"AS205A","v":-19,"f":3.35},{"seg":"AS205A","v":-17,"f":3.40},{"seg":"AS205A","v":-15,"f":3.45},{"seg":"AS205A","v":-13,"f":3.65},{"seg":"AS205A","v":-11,"f":3.80},{"seg":"AS205A","v":-9,"f":3.98},{"seg":"AS205A","v":-7,"f":4.17},{"seg":"AS205A","v":-5,"f":4.30},{"seg":"AS205A","v":-3,"f":4.40},{"seg":"AS205A","v":-1.5,"f":4.43},{"seg":"AS205A","v":0.5,"f":4.42},{"seg":"AS205A","v":2.5,"f":4.27},{"seg":"AS205A","v":4.5,"f":4.11},{"seg":"AS205A","v":6.5,"f":3.91},{"seg":"AS205A","v":8.5,"f":3.72},{"seg":"AS205A","v":10.5,"f":3.55},{"seg":"AS205A","v":12,"f":3.45},{"seg":"AS205A","v":13,"f":3.40},{"seg":"AS205A","v":15,"f":3.21},{"seg":"AS205A","v":17,"f":3.16},{"seg":"AS205A","v":19,"f":3.14},{"seg":"AS205A","v":23,"f":3.13},{"seg":"AS205A","v":27,"f":3.11},{"seg":"AS205A","v":30,"f":3.10},{"seg":"AS205A","v":34,"f":3.08},{"seg":"AS205A","v":38,"f":3.05},{"seg":"AS205A","v":42,"f":3.03},{"seg":"AS205A","v":46,"f":3.00},{"seg":"AS205A","v":50,"f":2.99},{"seg":"AS205A","v":55,"f":2.97},{"seg":"AS205A","v":60,"f":2.96},{"seg":"AS205A","v":66,"f":2.96},{"seg":"AS205A","v":72,"f":2.95},{"seg":"AS205A","v":78,"f":2.95},{"seg":"AS205A","v":84,"f":2.95},{"seg":"AS205A","v":90,"f":2.95},{"seg":"AS205A","v":96,"f":2.95},{"seg":"AS205A","v":102,"f":2.94},{"seg":"AS205A","v":108,"f":2.95},{"seg":"AS205A","v":114,"f":2.94},{"seg":"AS205A","v":120,"f":2.94},{"seg":"AS205A","v":126,"f":2.95},{"seg":"AS205A","v":132,"f":2.95},{"seg":"AS205A","v":138,"f":2.95},{"seg":"AS205A","v":144,"f":2.95},{"seg":"AS205A","v":150,"f":2.95},
{"seg":"RULup-a","v":-150,"f":1.97},{"seg":"RULup-a","v":-146,"f":1.96},{"seg":"RULup-a","v":-142,"f":1.97},{"seg":"RULup-a","v":-138,"f":1.96},{"seg":"RULup-a","v":-134,"f":1.95},{"seg":"RULup-a","v":-130,"f":1.96},{"seg":"RULup-a","v":-126,"f":1.95},{"seg":"RULup-a","v":-122,"f":1.99},{"seg":"RULup-a","v":-119,"f":1.97},{"seg":"RULup-a","v":-118,"f":1.85},{"seg":"RULup-a","v":-116,"f":1.90},{"seg":"RULup-a","v":-113,"f":1.96},{"seg":"RULup-a","v":-109,"f":1.96},{"seg":"RULup-a","v":-105,"f":1.95},{"seg":"RULup-a","v":-101,"f":1.94},{"seg":"RULup-a","v":-97,"f":1.95},{"seg":"RULup-a","v":-93,"f":1.94},{"seg":"RULup-a","v":-89,"f":1.96},{"seg":"RULup-a","v":-85,"f":1.95},{"seg":"RULup-a","v":-81,"f":1.96},{"seg":"RULup-a","v":-77,"f":1.97},{"seg":"RULup-a","v":-73,"f":1.97},{"seg":"RULup-a","v":-69,"f":1.98},{"seg":"RULup-a","v":-65,"f":1.99},{"seg":"RULup-a","v":-61,"f":2.00},{"seg":"RULup-a","v":-57,"f":2.02},{"seg":"RULup-a","v":-53,"f":2.04},{"seg":"RULup-a","v":-49,"f":2.06},{"seg":"RULup-a","v":-45,"f":2.07},{"seg":"RULup-a","v":-41,"f":2.09},{"seg":"RULup-a","v":-37,"f":2.12},{"seg":"RULup-a","v":-33,"f":2.15},{"seg":"RULup-a","v":-30,"f":2.18},{"seg":"RULup-a","v":-27,"f":2.22},{"seg":"RULup-a","v":-24.5,"f":2.27},{"seg":"RULup-a","v":-22,"f":2.31},{"seg":"RULup-a","v":-19.5,"f":2.41},{"seg":"RULup-a","v":-17,"f":2.50},{"seg":"RULup-a","v":-15,"f":2.56},{"seg":"RULup-a","v":-13,"f":2.66},{"seg":"RULup-a","v":-11,"f":2.76},{"seg":"RULup-a","v":-9.5,"f":2.85},{"seg":"RULup-a","v":-8,"f":2.95},{"seg":"RULup-a","v":-6,"f":3.08},{"seg":"RULup-a","v":-4,"f":3.18},{"seg":"RULup-a","v":-2,"f":3.21},{"seg":"RULup-a","v":0,"f":3.24},{"seg":"RULup-a","v":1.5,"f":3.22},{"seg":"RULup-a","v":3.5,"f":3.05},{"seg":"RULup-a","v":5.5,"f":2.92},{"seg":"RULup-a","v":7.5,"f":2.79},{"seg":"RULup-a","v":9.5,"f":2.66},
{"seg":"RULup-b","v":23,"f":2.38},{"seg":"RULup-b","v":25.5,"f":2.31},{"seg":"RULup-b","v":28.5,"f":2.25},{"seg":"RULup-b","v":31.5,"f":2.22},{"seg":"RULup-b","v":36,"f":2.20},{"seg":"RULup-b","v":40,"f":2.15},{"seg":"RULup-b","v":46,"f":2.12},{"seg":"RULup-b","v":52,"f":2.09},{"seg":"RULup-b","v":56,"f":2.07},{"seg":"RULup-b","v":62,"f":2.06},{"seg":"RULup-b","v":68,"f":2.04},{"seg":"RULup-b","v":72,"f":2.02},{"seg":"RULup-b","v":74,"f":1.97},{"seg":"RULup-b","v":78,"f":2.02},{"seg":"RULup-b","v":84,"f":2.01},{"seg":"RULup-b","v":88,"f":2.00},{"seg":"RULup-b","v":92,"f":2.01},{"seg":"RULup-b","v":96,"f":2.02},{"seg":"RULup-b","v":100,"f":2.00},{"seg":"RULup-b","v":104,"f":2.01},{"seg":"RULup-b","v":108,"f":2.00},{"seg":"RULup-b","v":112,"f":1.98},{"seg":"RULup-b","v":116,"f":1.98},{"seg":"RULup-b","v":120,"f":1.97},{"seg":"RULup-b","v":124,"f":1.96},{"seg":"RULup-b","v":126,"f":1.94},{"seg":"RULup-b","v":130,"f":1.95},{"seg":"RULup-b","v":134,"f":1.96},{"seg":"RULup-b","v":138,"f":1.95},{"seg":"RULup-b","v":142,"f":1.94},{"seg":"RULup-b","v":145,"f":1.93},{"seg":"RULup-b","v":147,"f":1.89},{"seg":"RULup-b","v":150,"f":1.97},
{"seg":"SCrAB","v":-150,"f":0.86},{"seg":"SCrAB","v":-146,"f":0.84},{"seg":"SCrAB","v":-142,"f":0.82},{"seg":"SCrAB","v":-138,"f":0.81},{"seg":"SCrAB","v":-134,"f":0.80},{"seg":"SCrAB","v":-130,"f":0.81},{"seg":"SCrAB","v":-126,"f":0.82},{"seg":"SCrAB","v":-122,"f":0.81},{"seg":"SCrAB","v":-118,"f":0.83},{"seg":"SCrAB","v":-114,"f":0.82},{"seg":"SCrAB","v":-110,"f":0.84},{"seg":"SCrAB","v":-106,"f":0.83},{"seg":"SCrAB","v":-102,"f":0.84},{"seg":"SCrAB","v":-98,"f":0.84},{"seg":"SCrAB","v":-94,"f":0.83},{"seg":"SCrAB","v":-90,"f":0.84},{"seg":"SCrAB","v":-86,"f":0.85},{"seg":"SCrAB","v":-83,"f":0.87},{"seg":"SCrAB","v":-79,"f":0.88},{"seg":"SCrAB","v":-75,"f":0.90},{"seg":"SCrAB","v":-71,"f":0.92},{"seg":"SCrAB","v":-67,"f":0.93},{"seg":"SCrAB","v":-63,"f":0.96},{"seg":"SCrAB","v":-59,"f":0.98},{"seg":"SCrAB","v":-55,"f":1.00},{"seg":"SCrAB","v":-51,"f":1.03},{"seg":"SCrAB","v":-47,"f":1.05},{"seg":"SCrAB","v":-44,"f":1.09},{"seg":"SCrAB","v":-41,"f":1.11},{"seg":"SCrAB","v":-38,"f":1.14},{"seg":"SCrAB","v":-35,"f":1.15},{"seg":"SCrAB","v":-33,"f":1.17},{"seg":"SCrAB","v":-31,"f":1.19},{"seg":"SCrAB","v":-29,"f":1.22},{"seg":"SCrAB","v":-26,"f":1.24},{"seg":"SCrAB","v":-23,"f":1.25},{"seg":"SCrAB","v":-20,"f":1.28},{"seg":"SCrAB","v":-17,"f":1.32},{"seg":"SCrAB","v":-15,"f":1.35},{"seg":"SCrAB","v":-13,"f":1.48},{"seg":"SCrAB","v":-11,"f":1.60},{"seg":"SCrAB","v":-9,"f":1.80},{"seg":"SCrAB","v":-7,"f":1.98},{"seg":"SCrAB","v":-5,"f":2.15},{"seg":"SCrAB","v":-3.5,"f":2.31},{"seg":"SCrAB","v":-2,"f":2.38},{"seg":"SCrAB","v":0,"f":2.38},{"seg":"SCrAB","v":2,"f":2.38},{"seg":"SCrAB","v":3.5,"f":2.21},{"seg":"SCrAB","v":5.5,"f":1.96},{"seg":"SCrAB","v":7.5,"f":1.70},{"seg":"SCrAB","v":9.5,"f":1.51},{"seg":"SCrAB","v":11.5,"f":1.40},{"seg":"SCrAB","v":14,"f":1.33},{"seg":"SCrAB","v":17,"f":1.30},{"seg":"SCrAB","v":20,"f":1.28},{"seg":"SCrAB","v":24,"f":1.26},{"seg":"SCrAB","v":28,"f":1.22},{"seg":"SCrAB","v":32,"f":1.16},{"seg":"SCrAB","v":35,"f":1.15},{"seg":"SCrAB","v":38,"f":1.13},{"seg":"SCrAB","v":42,"f":1.11},{"seg":"SCrAB","v":46,"f":1.09},{"seg":"SCrAB","v":50,"f":1.08},{"seg":"SCrAB","v":54,"f":1.06},{"seg":"SCrAB","v":58,"f":1.03},{"seg":"SCrAB","v":61,"f":1.00},{"seg":"SCrAB","v":64,"f":0.96},{"seg":"SCrAB","v":67,"f":0.93},{"seg":"SCrAB","v":70,"f":0.90},{"seg":"SCrAB","v":74,"f":0.89},{"seg":"SCrAB","v":78,"f":0.87},{"seg":"SCrAB","v":82,"f":0.87},{"seg":"SCrAB","v":86,"f":0.86},{"seg":"SCrAB","v":90,"f":0.88},{"seg":"SCrAB","v":94,"f":0.87},{"seg":"SCrAB","v":98,"f":0.86},{"seg":"SCrAB","v":102,"f":0.87},{"seg":"SCrAB","v":106,"f":0.88},{"seg":"SCrAB","v":110,"f":0.87},{"seg":"SCrAB","v":114,"f":0.86},{"seg":"SCrAB","v":118,"f":0.88},{"seg":"SCrAB","v":122,"f":0.87},{"seg":"SCrAB","v":126,"f":0.86},{"seg":"SCrAB","v":130,"f":0.86},{"seg":"SCrAB","v":134,"f":0.87},{"seg":"SCrAB","v":138,"f":0.85},{"seg":"SCrAB","v":142,"f":0.86},{"seg":"SCrAB","v":146,"f":0.84},{"seg":"SCrAB","v":150,"f":0.80}
],
"labels":[
{"name":"VVSer,","pn":"P(8)","pv":-77,"pval":"=1.5","f":12.40},
{"name":"AATau,","pn":"P(11)","pv":-75.5,"pval":"=2.4","f":11.40},
{"name":"SR21,","pn":"P(8)","pv":-84,"pval":"=2.4","f":9.59},
{"name":"TWHya,","pn":"P(8)","pv":-68,"pval":"=5.0","f":8.26},
{"name":"HD135344,","pn":"P(8)","pv":-37,"pval":"=6.9","f":6.83},
{"name":"DoAr24E,","pn":"P(11)","pv":-52,"pval":"=7.3","f":5.58},
{"name":"DRTau,","pn":"P(8)","pv":-71.5,"pval":"=7.7","f":4.65},
{"name":"AS205A,","pn":"P(10)","pv":-62,"pval":"=11.5","f":3.46},
{"name":"RULup,","pn":"P(6)","pv":-72,"pval":"=15.1","f":2.37},
{"name":"SCrAB,","pn":"P(10)","pv":-75,"pval":"=18.8","f":1.37}
]},
"layer":[
{"data":{"name":"spec"},
 "mark":{"type":"line","interpolate":"step","color":"black","strokeWidth":2.4},
 "encoding":{
  "x":{"field":"v","type":"quantitative","scale":{"domain":[-150,150],"nice":false,"zero":false},
   "axis":{"orient":"bottom","values":[-150,-140,-130,-120,-110,-100,-90,-80,-70,-60,-50,-40,-30,-20,-10,0,10,20,30,40,50,60,70,80,90,100,110,120,130,140,150],
    "tickSize":{"condition":{"test":"datum.value % 50 === 0","value":-24},"value":-12},
    "labelExpr":"datum.value % 50 === 0 ? datum.label : ''","labelFontSize":22,"labelPadding":46,
    "title":"Velocity [km s⁻¹]","titleFontSize":37,"titleY":118,"titleBaseline":"alphabetic"}},
  "y":{"field":"f","type":"quantitative","scale":{"domain":[0.5,13],"nice":false,"zero":false},
   "axis":{"orient":"left","values":[1,1.5,2,2.5,3,3.5,4,4.5,5,5.5,6,6.5,7,7.5,8,8.5,9,9.5,10,10.5,11,11.5,12,12.5],
    "format":"d",
    "tickSize":{"condition":{"test":"datum.value % 2 === 0","value":-9},"value":-6},
    "labelExpr":"datum.value % 2 === 0 ? datum.label : ''","labelFontSize":22,"labelPadding":19,
    "title":"Flux [a.u.]","titleFontSize":36,"titleX":-62,"titleY":680,"titleAngle":-90,"titleBaseline":"alphabetic","titleAlign":"center"}},
  "detail":{"field":"seg","type":"nominal"}}},
{"data":{"name":"labels"},
 "mark":{"type":"text","align":"left","baseline":"alphabetic","font":"DejaVu Serif","fontSize":22,"color":"black"},
 "encoding":{
  "x":{"field":"pv","type":"quantitative","scale":{"domain":[-150,150],"nice":false,"zero":false},
   "axis":{"orient":"top","values":[-150,-140,-130,-120,-110,-100,-90,-80,-70,-60,-50,-40,-30,-20,-10,0,10,20,30,40,50,60,70,80,90,100,110,120,130,140,150],
    "tickSize":{"condition":{"test":"datum.value % 50 === 0","value":-24},"value":-12},"labels":false,"title":null}},
  "y":{"field":"f","type":"quantitative","scale":{"domain":[0.5,13],"nice":false,"zero":false},
   "axis":{"orient":"right","values":[1,1.5,2,2.5,3,3.5,4,4.5,5,5.5,6,6.5,7,7.5,8,8.5,9,9.5,10,10.5,11,11.5,12,12.5],
    "tickSize":{"condition":{"test":"datum.value % 2 === 0","value":-9},"value":-6},"labels":false,"title":null}},
  "text":{"field":"pn"}}},
{"data":{"name":"labels"},
 "mark":{"type":"text","align":"left","baseline":"alphabetic","font":"DejaVu Serif","fontSize":27,"color":"black"},
 "encoding":{
  "x":{"datum":-141,"type":"quantitative","axis":null},
  "y":{"field":"f","type":"quantitative","axis":null},
  "text":{"field":"name"}}},
{"data":{"name":"labels"},
 "mark":{"type":"text","align":"left","baseline":"alphabetic","font":"DejaVu Serif","fontSize":27,"color":"black","text":"P"},
 "encoding":{
  "x":{"datum":60,"type":"quantitative","axis":null},
  "y":{"field":"f","type":"quantitative","axis":null}}},
{"data":{"name":"labels"},
 "mark":{"type":"text","align":"left","baseline":"alphabetic","font":"DejaVu Serif","fontSize":18,"color":"black","text":"10","dx":19,"dy":6},
 "encoding":{
  "x":{"datum":60,"type":"quantitative","axis":null},
  "y":{"field":"f","type":"quantitative","axis":null}}},
{"data":{"name":"labels"},
 "mark":{"type":"text","align":"left","baseline":"alphabetic","font":"DejaVu Serif","fontSize":27,"color":"black","dx":42},
 "encoding":{
  "x":{"datum":60,"type":"quantitative","axis":null},
  "y":{"field":"f","type":"quantitative","axis":null},
  "text":{"field":"pval"}}}
],
"resolve":{"axis":{"x":"independent","y":"independent"}}
}
